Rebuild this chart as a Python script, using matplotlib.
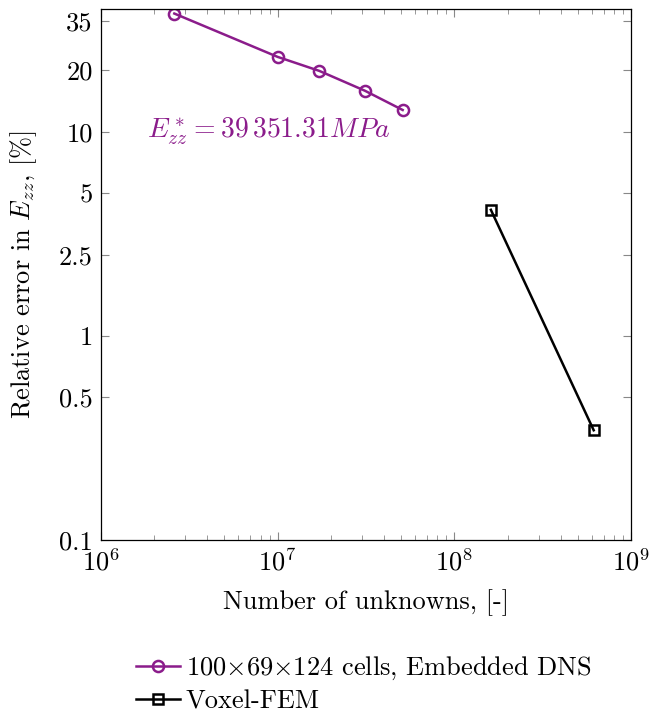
import matplotlib.pyplot as plt
import matplotlib.ticker as mticker

plt.rcParams['font.family'] = 'serif'
plt.rcParams['font.serif'] = ['cmr10', 'DejaVu Serif']
plt.rcParams['mathtext.fontset'] = 'cm'
plt.rcParams['axes.formatter.use_mathtext'] = True
plt.rcParams['font.size'] = 19

# DATA
dns_unknowns = [2.6e6, 1.0e7, 1.72e7, 3.12e7, 5.1e7]
dns_error = [38.0, 23.3, 19.9, 15.9, 12.8]

fem_unknowns = [1.61e8, 6.15e8]
fem_error = [4.15, 0.345]

y_ticks = [0.1, 0.5, 1, 2.5, 5, 10, 20, 35]
y_labels = ['0.1', '0.5', '1', '2.5', '5', '10', '20', '35']

PURPLE = '#8b1c8b'

fig = plt.figure(figsize=(6.51, 7.18), dpi=100)
ax = fig.add_axes([101 / 651, 1 - 540 / 718, 530 / 651, 531 / 718])

ax.plot(dns_unknowns, dns_error, color=PURPLE, lw=1.8, marker='o', ms=8,
        mfc='none', mew=1.8, label=r'100$\times$69$\times$124 cells, Embedded DNS')
ax.plot(fem_unknowns, fem_error, color='black', lw=1.8, marker='s', ms=7.5,
        mfc='none', mew=1.8, label='Voxel-FEM')

ax.set_xscale('log')
ax.set_yscale('log')
ax.set_xlim(1e6, 1e9)
ax.set_ylim(0.1, 40)

ax.set_yticks(y_ticks)
ax.set_yticklabels(y_labels)
ax.yaxis.set_minor_locator(mticker.NullLocator())
ax.xaxis.set_major_locator(mticker.LogLocator(base=10, numticks=10))
ax.xaxis.set_minor_locator(mticker.LogLocator(base=10, subs=range(2, 10), numticks=20))

ax.tick_params(which='both', direction='in', top=True, right=True, color='#888888')
ax.tick_params(which='major', length=6, width=0.8, pad=6)
ax.tick_params(which='minor', length=3.5, width=0.6)
for s in ax.spines.values():
    s.set_linewidth(0.9)

ax.text(8.9e6, 10, r'$E^*_{zz} = 39\,351.31MPa$', color=PURPLE, fontsize=20,
        ha='center', va='center')

ax.set_xlabel('Number of unknowns, [-]', labelpad=10)
ax.set_ylabel(r'Relative error in $E_{zz}$, [%]', labelpad=14)

fig.legend(loc='upper left', bbox_to_anchor=(125 / 651, 1 - 644 / 718),
           frameon=False, handlelength=1.7, handletextpad=0.2, labelspacing=0.3,
           borderaxespad=0)

fig.savefig('out.png', dpi=100)
